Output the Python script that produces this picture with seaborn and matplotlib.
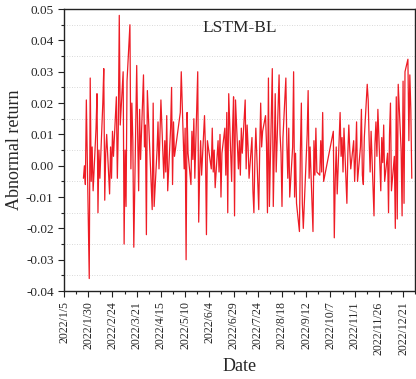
import matplotlib
matplotlib.use("Agg")
import matplotlib.pyplot as plt
import matplotlib.ticker as mticker
import matplotlib.dates as mdates
import numpy as np
import pandas as pd
import seaborn as sns

# abnormal returns per trading month (2022)
jan_vals = [-0.004, 0.000, -0.006, 0.021, -0.036]
feb_vals = [0.028, -0.005, 0.006, -0.008, 0.012, 0.023, -0.015, 0.005,
            -0.004, 0.020, 0.031, -0.011, 0.004, 0.010, -0.009, 0.006,
            -0.004, 0.011, 0.003, 0.022]
mar_vals = [-0.004, 0.012, 0.048, 0.013, 0.030, -0.025, 0.005, -0.013,
            0.027, 0.045, -0.001, 0.020, 0.008, -0.026, 0.032, 0.010,
            -0.008, 0.018, 0.002, 0.029, 0.006, 0.013, -0.022]
apr_vals = [0.024, -0.014, 0.020, -0.013, 0.005, 0.014, -0.001, 0.010,
            0.021, -0.004, 0.008, -0.002, 0.016, -0.008, 0.012, 0.025,
            -0.006, 0.014, 0.003]
may_vals = [0.017, 0.030, -0.001, 0.012, -0.030, 0.017, 0.004, -0.006,
            0.011, 0.002, 0.015, -0.004, 0.030, -0.018, -0.002, 0.008,
            -0.003, 0.016, 0.005]
jun_vals = [-0.022, 0.008, -0.001, 0.012, -0.002, 0.005, -0.007, 0.008,
            -0.002, 0.010, -0.010, 0.004, 0.012, -0.003, 0.017, -0.015,
            0.023, -0.005, 0.012, 0.022, -0.016]
jul_vals = [0.021, -0.001, 0.008, -0.003, 0.012, 0.004, 0.021, -0.001,
            0.013, 0.006, -0.004, 0.009, -0.008, -0.015, 0.002, 0.012,
            -0.014, 0.005, 0.020, 0.006, 0.011]
aug_vals = [0.016, 0.007, -0.015, 0.028, -0.013, 0.031, -0.013, 0.004,
            0.023, -0.002, 0.029, 0.010, 0.004, -0.013, 0.009, 0.028,
            0.007, -0.004, 0.012, -0.010, 0.006, 0.030, -0.010]
sep_vals = [0.004, -0.012, -0.021, 0.005, 0.020, -0.012, -0.020, 0.010,
            0.024, -0.004, 0.006, -0.021, 0.008, -0.003, 0.012, -0.002,
            -0.003, 0.008, -0.002, 0.017, -0.005]
oct_vals = [0.011, -0.023, -0.004, 0.006, -0.009, 0.017, 0.003, 0.009,
            -0.002, 0.012, -0.012, 0.004, 0.013, 0.005, -0.001, 0.008]
nov_vals = [-0.005, 0.003, 0.014, -0.005, 0.006, 0.018, -0.003, -0.006,
            0.009, 0.026, 0.021, 0.008, -0.002, 0.011, -0.016, 0.007,
            0.014, 0.003, 0.018, -0.008, 0.009, 0.001]
dec_vals = [0.013, -0.005, 0.004, -0.015, 0.010, 0.020, -0.008, 0.003,
            -0.020, 0.022, -0.017, 0.026, 0.005, -0.016, 0.027, -0.012,
            0.030, 0.034, 0.008, 0.029, 0.018, -0.004]

holidays = ["2022-04-04", "2022-04-05", "2022-05-02", "2022-05-03", "2022-05-04",
            "2022-06-03", "2022-09-12", "2022-10-03", "2022-10-04", "2022-10-05",
            "2022-10-06", "2022-10-07"]

values = (jan_vals + feb_vals + mar_vals + apr_vals + may_vals + jun_vals +
          jul_vals + aug_vals + sep_vals + oct_vals + nov_vals + dec_vals)

days = pd.bdate_range("2022-01-25", "2022-12-30")
days = days[~days.isin(pd.to_datetime(holidays))]
df = pd.DataFrame({"Date": days[:len(values)], "Abnormal return": values})

sns.set_style("ticks")
plt.rcParams["font.family"] = ["Liberation Serif", "DejaVu Serif"]

fig = plt.figure(figsize=(4.16, 3.79), dpi=100)
ax = fig.add_axes([0.154, 0.232, 0.844, 0.744])

sns.lineplot(data=df, x="Date", y="Abnormal return", color="#ee1c25",
             linewidth=0.9, ax=ax)

ax.set_ylim(-0.04, 0.05)
ax.set_xlim(pd.Timestamp("2022-01-05"), pd.Timestamp("2022-12-31"))

ax.yaxis.set_major_locator(mticker.MultipleLocator(0.01))
ax.yaxis.set_minor_locator(mticker.MultipleLocator(0.005))
ax.yaxis.set_major_formatter(mticker.FormatStrFormatter("%.2f"))

tick_days = pd.date_range("2022-01-05", "2022-12-31", freq="25D")
tick_labels = [f"{d.year}/{d.month}/{d.day}" for d in tick_days]
ax.set_xticks(mdates.date2num(tick_days))
ax.set_xticklabels(tick_labels, rotation=90, fontsize=8.5)
ax.set_xticks(mdates.date2num(tick_days + pd.Timedelta(days=12.5)), minor=True)

ax.tick_params(axis="y", labelsize=9.5)
ax.tick_params(which="major", direction="out", length=4, width=0.8, color="#222222")
ax.tick_params(which="minor", direction="out", length=2, width=0.8, color="#222222")

# dotted grid only on the half-steps
for yv in np.arange(-0.035, 0.05, 0.01):
    ax.axhline(yv, color="#cccccc", linestyle=(0, (1, 2)), linewidth=0.6, zorder=0)

for s in ax.spines.values():
    s.set_visible(True)
    s.set_color("#222222")
    s.set_linewidth(1.0)

ax.set_xlabel("Date", fontsize=13, labelpad=2)
ax.set_ylabel("Abnormal return", fontsize=13, labelpad=2)
ax.text(0.5, 0.96, "LSTM-BL", transform=ax.transAxes, ha="center", va="top",
        fontsize=12.5)

fig.savefig("out.png", dpi=100)
